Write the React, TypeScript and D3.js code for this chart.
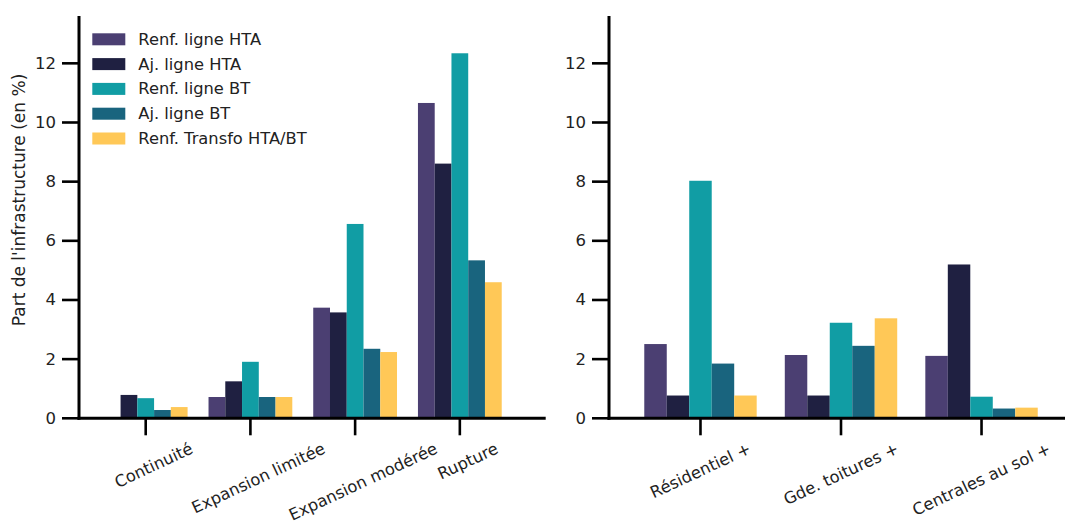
import React from "react";
import * as d3 from "d3";

const seriesNames = [
  "Renf. ligne HTA",
  "Aj. ligne HTA",
  "Renf. ligne BT",
  "Aj. ligne BT",
  "Renf. Transfo HTA/BT",
];
const seriesColors = ["#4B3F72", "#1F2041", "#119DA4", "#19647E", "#FFC857"];

const categoriesLeft = ["Continuité", "Expansion limitée", "Expansion modérée", "Rupture"];
const renfHTALeft = [0, 0.72, 3.74, 10.66];
const ajHTALeft = [0.79, 1.25, 3.58, 8.61];
const renfBTLeft = [0.68, 1.91, 6.57, 12.34];
const ajBTLeft = [0.28, 0.72, 2.35, 5.34];
const transfoLeft = [0.38, 0.72, 2.24, 4.6];

const categoriesRight = ["Résidentiel +", "Gde. toitures +", "Centrales au sol +"];
const renfHTARight = [2.51, 2.14, 2.11];
const ajHTARight = [0.77, 0.77, 5.2];
const renfBTRight = [8.03, 3.23, 0.73];
const ajBTRight = [1.85, 2.45, 0.33];
const transfoRight = [0.77, 3.38, 0.36];

const yTicks = [0, 2, 4, 6, 8, 10, 12];
const yLabel = "Part de l'infrastructure (en %)";

const W = 1065;
const H = 523;
const FONT = "'DejaVu Sans', sans-serif";
const Y0 = 418.3;
const YTOP = 16;
const ANGLE = 25;

const yScale = d3.scaleLinear().domain([0, 13.6]).range([Y0, YTOP]);

let measureCtx: CanvasRenderingContext2D | null = null;
function measure(text: string, size: number) {
  if (!measureCtx) {
    const c = document.createElement("canvas");
    measureCtx = c.getContext("2d");
  }
  if (!measureCtx) return text.length * size * 0.6;
  measureCtx.font = `${size}px "DejaVu Sans"`;
  return measureCtx.measureText(text).width;
}

type PanelProps = {
  categories: string[];
  series: number[][];
  x0: number;
  x1: number;
  domain: [number, number];
  labelDx: number;
};

function Panel({ categories, series, x0, x1, domain, labelDx }: PanelProps) {
  const x = d3.scaleLinear().domain(domain).range([x0, x1]);
  const groupW = 0.8;
  const n = series.length;
  const bw = groupW / n;
  const fs = 16.3;
  const rad = (ANGLE * Math.PI) / 180;
  return (
    <g>
      {series.map((vals, j) =>
        vals.map((v, i) => {
          const left = x(i - groupW / 2 + j * bw);
          const right = x(i - groupW / 2 + (j + 1) * bw);
          return (
            <rect
              key={`b-${j}-${i}`}
              x={left}
              y={yScale(v)}
              width={right - left}
              height={Y0 - yScale(v)}
              fill={seriesColors[j]}
            />
          );
        })
      )}
      {/* spines */}
      <line x1={x0} x2={x0} y1={YTOP} y2={Y0 + 1.5} stroke="#000" strokeWidth={3} />
      <line x1={x0 - 1.5} x2={x1} y1={Y0} y2={Y0} stroke="#000" strokeWidth={3} />
      {/* y ticks */}
      {yTicks.map((t) => (
        <g key={`yt-${t}`}>
          <line x1={x0 - 17} x2={x0} y1={yScale(t)} y2={yScale(t)} stroke="#000" strokeWidth={2.6} />
          <text
            x={x0 - 23}
            y={yScale(t)}
            textAnchor="end"
            dominantBaseline="central"
            fontFamily={FONT}
            fontSize={16.5}
            fill="#222"
          >
            {t}
          </text>
        </g>
      ))}
      {/* x ticks */}
      {categories.map((c, i) => {
        const tx = x(i);
        const w = measure(c, fs);
        const h = fs * 1.1;
        const bh = w * Math.sin(rad) + h * Math.cos(rad);
        const cy = 439.5 + bh / 2;
        return (
          <g key={`xt-${i}`}>
            <line x1={tx} x2={tx} y1={Y0} y2={Y0 + 17} stroke="#000" strokeWidth={2.6} />
            <text
              transform={`translate(${tx + labelDx},${cy}) rotate(${-ANGLE})`}
              textAnchor="middle"
              dominantBaseline="central"
              fontFamily={FONT}
              fontSize={fs}
              fill="#222"
            >
              {c}
            </text>
          </g>
        );
      })}
    </g>
  );
}

export default function App() {
  const leftSeries = [renfHTALeft, ajHTALeft, renfBTLeft, ajBTLeft, transfoLeft];
  const rightSeries = [renfHTARight, ajHTARight, renfBTRight, ajBTRight, transfoRight];
  return (
    <svg
      width={W}
      height={H}
      viewBox={`0 0 ${W} ${H}`}
      style={{ position: "absolute", left: 0, top: 0, background: "#fff" }}
    >
      <rect x={0} y={0} width={W} height={H} fill="#fff" />
      <Panel
        categories={categoriesLeft}
        series={leftSeries}
        x0={79}
        x1={545.7}
        domain={[-0.637, 3.82]}
        labelDx={8}
      />
      <Panel
        categories={categoriesRight}
        series={rightSeries}
        x0={609}
        x1={1065}
        domain={[-0.651, 2.594]}
        labelDx={0}
      />
      <text
        transform={`translate(19,200) rotate(-90)`}
        textAnchor="middle"
        dominantBaseline="central"
        fontFamily={FONT}
        fontSize={17}
        fill="#222"
      >
        {yLabel}
      </text>
      {/* legend */}
      {seriesNames.map((s, j) => {
        const cy = 39.3 + j * 24.8;
        return (
          <g key={`lg-${j}`}>
            <rect x={92.3} y={cy - 6} width={33} height={12} fill={seriesColors[j]} />
            <text
              x={138.3}
              y={cy}
              dominantBaseline="central"
              fontFamily={FONT}
              fontSize={16.3}
              fill="#222"
            >
              {s}
            </text>
          </g>
        );
      })}
    </svg>
  );
}
